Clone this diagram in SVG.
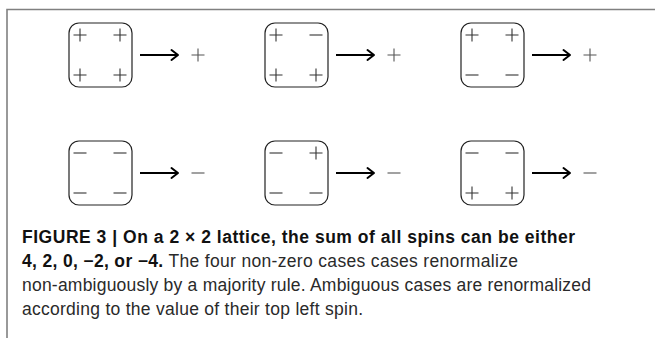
<svg xmlns="http://www.w3.org/2000/svg" width="655" height="338" viewBox="0 0 655 338">
<style>
.frame{stroke:#808080;stroke-width:1.6;fill:none}
.box{fill:none;stroke:#222;stroke-width:1.2}
.sp{stroke:#333;stroke-width:1.1;fill:none}
.res{stroke:#555;stroke-width:1.1;fill:none}
.arr{stroke:#000;stroke-width:2.2;fill:none}
.head{stroke:#000;stroke-width:2;fill:none;stroke-linecap:round;stroke-linejoin:round}
.cap{font-family:"Liberation Sans",Arial,sans-serif;font-size:17.5px;fill:#2a2a2a}
.b{font-weight:bold;fill:#111}
</style>
<defs>
<path id="plus" d="M-6.5 0H6.5M0 -6.5V6.5"/>
<path id="minus" d="M-6.5 0H6.5"/>
<g id="arrow"><path class="arr" d="M0 0H37"/><path class="head" d="M31.5 -5L38 0L31.5 5"/></g>
</defs>
<path class="frame" d="M655 9.5H7V338"/>
<g id="node1">
<rect class="box" x="69" y="23" width="63" height="64" rx="10"/>
<use href="#plus" class="sp" x="80" y="35"/><use href="#plus" class="sp" x="120" y="35"/>
<use href="#plus" class="sp" x="80" y="75"/><use href="#plus" class="sp" x="120" y="75"/>
<use href="#plus" class="res" x="198" y="55"/>
</g>
<g id="node2">
<rect class="box" x="265" y="23" width="63" height="64" rx="10"/>
<use href="#plus" class="sp" x="276" y="35"/><use href="#minus" class="sp" x="316" y="35"/>
<use href="#plus" class="sp" x="276" y="75"/><use href="#plus" class="sp" x="316" y="75"/>
<use href="#plus" class="res" x="394" y="55"/>
</g>
<g id="node3">
<rect class="box" x="461" y="23" width="63" height="64" rx="10"/>
<use href="#plus" class="sp" x="472" y="35"/><use href="#plus" class="sp" x="512" y="35"/>
<use href="#minus" class="sp" x="472" y="75"/><use href="#minus" class="sp" x="512" y="75"/>
<use href="#plus" class="res" x="590" y="55"/>
</g>
<g id="node4">
<rect class="box" x="69" y="141" width="63" height="64" rx="10"/>
<use href="#minus" class="sp" x="80" y="153"/><use href="#minus" class="sp" x="120" y="153"/>
<use href="#minus" class="sp" x="80" y="193"/><use href="#minus" class="sp" x="120" y="193"/>
<use href="#minus" class="res" x="198" y="173"/>
</g>
<g id="node5">
<rect class="box" x="265" y="141" width="63" height="64" rx="10"/>
<use href="#minus" class="sp" x="276" y="153"/><use href="#plus" class="sp" x="316" y="153"/>
<use href="#minus" class="sp" x="276" y="193"/><use href="#minus" class="sp" x="316" y="193"/>
<use href="#minus" class="res" x="394" y="173"/>
</g>
<g id="node6">
<rect class="box" x="461" y="141" width="63" height="64" rx="10"/>
<use href="#minus" class="sp" x="472" y="153"/><use href="#minus" class="sp" x="512" y="153"/>
<use href="#plus" class="sp" x="472" y="193"/><use href="#plus" class="sp" x="512" y="193"/>
<use href="#minus" class="res" x="590" y="173"/>
</g>
<g id="connectors">
<use href="#arrow" x="140" y="55"/><use href="#arrow" x="336" y="55"/><use href="#arrow" x="532" y="55"/>
<use href="#arrow" x="140" y="173"/><use href="#arrow" x="336" y="173"/><use href="#arrow" x="532" y="173"/>
</g>
<g id="caption" class="cap">
<text x="22" y="243" class="b" textLength="553" lengthAdjust="spacing">FIGURE 3 | On a 2 × 2 lattice, the sum of all spins can be either</text>
<text x="22" y="267" textLength="496" lengthAdjust="spacing"><tspan class="b">4, 2, 0, −2, or −4.</tspan> The four non-zero cases cases renormalize</text>
<text x="22" y="291" textLength="569" lengthAdjust="spacing">non-ambiguously by a majority rule. Ambiguous cases are renormalized</text>
<text x="22" y="315" textLength="341" lengthAdjust="spacing">according to the value of their top left spin.</text>
</g>
</svg>
